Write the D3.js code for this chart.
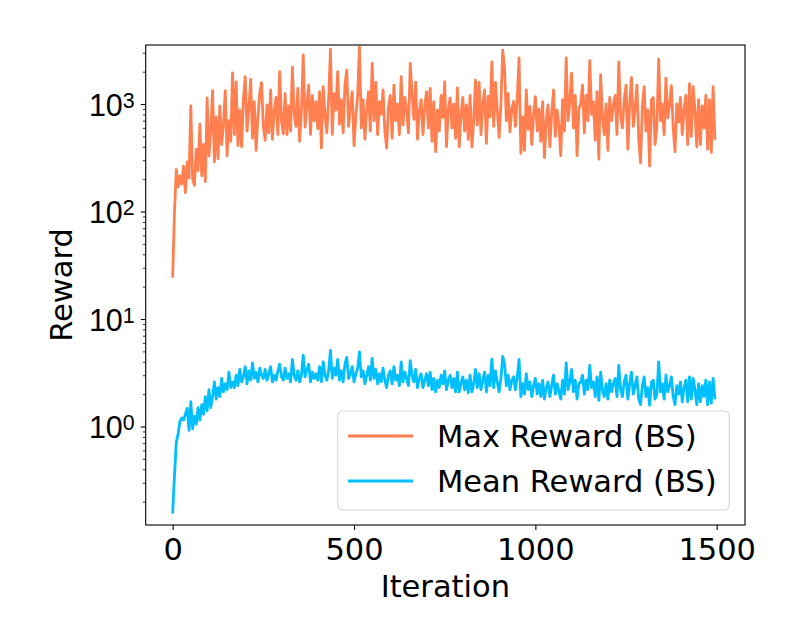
<!DOCTYPE html>
<html>
<head>
<meta charset="utf-8">
<script src="https://cdn.jsdelivr.net/npm/d3@7"></script>
<style>
  html, body { margin: 0; padding: 0; background: #fff; }
  svg { display: block; font-family: "DejaVu Sans", sans-serif; }
</style>
</head>
<body>
<svg id="chart" width="789" height="631"></svg>
<script>
// ---- Data (one value every 5 iterations) ----
const iterStep = 5;
const maxReward = [
  25, 100, 245, 170, 215, 180, 265, 150, 290, 205,
  960, 200, 175, 380, 240, 650, 215, 420, 190, 1140,
  330, 560, 1330, 290, 760, 310, 960, 420, 640, 1330,
  330, 700, 450, 1950, 520, 1610, 410, 880, 400, 1100,
  1800, 560, 900, 1700, 480, 1050, 370, 760, 1250, 1580,
  620, 460, 980, 540, 1350, 470, 860, 1150, 520, 2000,
  690, 530, 1250, 520, 960, 560, 2200, 800, 620, 1400,
  450, 870, 2860, 610, 980, 1500, 520, 1200, 700, 1050,
  590, 1300, 390, 1450, 800, 540, 1100, 3240, 520, 1250,
  880, 2000, 650, 1100, 540, 1500, 2070, 620, 950, 1300,
  410, 780, 1200, 3400, 600, 1100, 470, 900, 1300, 560,
  2390, 700, 1600, 520, 1050, 800, 1350, 560, 390, 950,
  1200, 480, 1500, 700, 1000, 520, 1800, 640, 1150, 880,
  540, 2390, 1250, 720, 1600, 470, 850, 1100, 520, 980,
  1300, 600, 1400, 450, 1050, 360, 880, 560, 1200, 750,
  1610, 400, 900, 1140, 600, 1000, 480, 1410, 400, 800,
  1150, 560, 980, 470, 1200, 400, 700, 1670, 640, 1590,
  520, 1000, 1350, 430, 1180, 760, 2460, 620, 1590, 880,
  490, 1000, 3170, 2160, 700, 1250, 550, 900, 1060, 620,
  1100, 2680, 348, 760, 370, 1350, 580, 950, 420, 800,
  1170, 560, 900, 450, 1050, 317, 700, 980, 400, 820,
  1350, 500, 880, 620, 330, 1100, 560, 2680, 700, 1060,
  1940, 600, 1200, 330, 900, 1000, 1500, 540, 1200, 700,
  2530, 800, 1050, 460, 1300, 306, 1880, 750, 520, 1000,
  370, 1150, 700, 980, 1200, 520, 2460, 780, 600, 1100,
  1500, 380, 1000, 1770, 620, 900, 1500, 470, 284, 950,
  1450, 560, 880, 265, 1100, 1150, 420, 620, 2620, 700,
  1000, 520, 1740, 740, 980, 1480, 600, 360, 1000, 680,
  1150, 520, 900, 1200, 420, 1550, 500, 1450, 880, 400,
  1100, 420, 960, 600, 1200, 380, 1100, 355, 1450, 480
];
const meanReward = [
  0.16, 0.35, 0.72, 0.85, 1.12, 1.2, 1.15, 1.3, 1.48, 0.92,
  1.7, 0.95, 1.25, 1.05, 1.5, 1.15, 1.6, 1.3, 1.9, 1.4,
  2.2, 1.5, 1.9, 2.6, 1.8, 2.3, 1.9, 2.8, 2.1, 2.5,
  2.2, 3.2, 2.3, 2.6, 2.3, 3.0, 2.4, 3.4, 2.6, 2.9,
  3.6, 2.5, 3.3, 2.7, 3.9, 2.8, 3.2, 2.6, 3.5, 3.0,
  2.8, 3.4, 2.7, 3.1, 3.6, 2.6, 3.0, 2.7, 3.3, 3.8,
  2.9, 2.7, 3.5, 2.8, 3.1, 2.6, 4.2, 3.0, 2.7, 3.3,
  2.6, 3.0, 4.6, 2.9, 3.4, 3.8, 2.6, 3.2, 2.8, 3.1,
  2.7, 3.6, 2.6, 4.0, 3.0, 2.7, 3.3, 5.1, 2.8, 3.5,
  3.0, 4.2, 2.7, 3.3, 2.6, 3.8, 4.4, 2.8, 3.1, 3.6,
  2.6, 3.1, 3.5, 4.95, 2.9, 3.3, 2.5, 3.0, 3.6, 2.7,
  4.3, 2.8, 3.4, 2.5, 3.1, 2.6, 3.5, 2.7, 2.3, 3.0,
  3.3, 2.5, 3.6, 2.7, 3.0, 2.4, 4.0, 2.6, 3.2, 2.8,
  2.4, 4.1, 3.0, 2.6, 3.4, 2.3, 2.8, 3.1, 2.3, 2.7,
  3.1, 2.4, 3.2, 2.2, 2.8, 2.1, 2.7, 2.3, 3.0, 2.5,
  3.3, 2.2, 2.7, 3.0, 2.3, 2.8, 2.1, 3.2, 2.1, 2.5,
  2.9, 2.2, 2.7, 2.06, 3.0, 2.1, 2.5, 3.4, 2.3, 3.1,
  2.2, 2.7, 3.2, 2.1, 3.0, 2.4, 4.24, 2.3, 3.3, 2.6,
  2.1, 2.8, 4.5, 3.8, 2.4, 3.0, 2.2, 2.7, 2.9, 2.2,
  2.9, 4.2, 1.9, 2.5, 2.0, 3.1, 2.2, 2.6, 1.9, 2.4,
  2.8, 2.0, 2.5, 1.9, 2.7, 1.8, 2.3, 2.6, 1.9, 2.4,
  3.0, 2.0, 2.5, 2.1, 1.8, 2.7, 2.0, 3.9, 2.2, 2.6,
  3.4, 2.1, 2.7, 1.8, 2.5, 2.6, 3.0, 2.0, 2.7, 2.2,
  3.7, 2.3, 2.6, 1.9, 2.9, 1.75, 3.2, 2.2, 1.9, 2.5,
  1.8, 2.7, 2.1, 2.5, 2.8, 1.9, 3.7, 2.2, 1.9, 2.6,
  3.0, 1.8, 2.5, 3.2, 2.0, 2.4, 2.9, 1.8, 1.6, 2.4,
  2.9, 1.9, 2.3, 1.58, 2.6, 2.7, 1.8, 2.0, 4.0, 2.1,
  2.5, 1.8, 3.0, 2.1, 2.4, 2.9, 1.9, 1.6, 2.4, 2.0,
  2.6, 1.7, 2.3, 2.7, 1.7, 2.9, 1.8, 2.8, 2.2, 1.6,
  2.5, 1.7, 2.4, 1.9, 2.7, 1.6, 2.6, 1.65, 2.8, 1.84
];
const xTicks = [0, 500, 1000, 1500];
const yTicks = [1, 10, 100, 1000];
const yTickExp = ["0", "1", "2", "3"];
const seriesNames = ["Max Reward (BS)", "Mean Reward (BS)"];
const seriesColors = ["#ff7f50", "#00bfff"];

// ---- Layout ----
const svg = d3.select("#chart");
const plot = { left: 145.7, right: 745, top: 45, bottom: 525 };
const FS = 30.5;

const x = d3.scaleLinear().domain([-74.4, 1578]).range([plot.left, plot.right]);
const y = d3.scaleLog().domain([Math.pow(10, -0.916), Math.pow(10, 3.549)]).range([plot.bottom, plot.top]);

svg.append("defs").append("clipPath").attr("id", "clip")
  .append("rect").attr("x", plot.left).attr("y", plot.top)
  .attr("width", plot.right - plot.left).attr("height", plot.bottom - plot.top);

const line = d3.line().x((d, i) => x(i * iterStep)).y(d => y(d));

const series = [maxReward, meanReward];
const g = svg.append("g").attr("clip-path", "url(#clip)");
series.forEach((s, k) => {
  g.append("path").datum(s).attr("d", line)
    .attr("fill", "none").attr("stroke", seriesColors[k])
    .attr("stroke-width", 2.8).attr("stroke-linejoin", "round").attr("stroke-linecap", "square");
});

// ---- Axes ----
const xAxis = d3.axisBottom(x).tickValues(xTicks).tickSize(4.9).tickPadding(4).tickFormat(d3.format("d"));
const gx = svg.append("g").attr("transform", `translate(0,${plot.bottom})`).call(xAxis);
gx.select(".domain").remove();
gx.selectAll(".tick line").attr("stroke", "#000").attr("stroke-width", 1.1);
gx.selectAll(".tick text").attr("font-size", FS).attr("font-family", "DejaVu Sans").attr("fill", "#000")
  .attr("dy", null).attr("y", 35);

// minor log ticks
const minor = [];
for (let e = -1; e <= 3; e++) for (let m = 2; m <= 9; m++) {
  const v = m * Math.pow(10, e);
  if (v >= y.domain()[0] && v <= y.domain()[1]) minor.push(v);
}
const yAxisMinor = d3.axisLeft(y).tickValues(minor).tickSize(2.8).tickFormat("");
const gym = svg.append("g").attr("transform", `translate(${plot.left},0)`).call(yAxisMinor);
gym.select(".domain").remove();
gym.selectAll(".tick line").attr("stroke", "#000").attr("stroke-width", 0.8);

const yAxis = d3.axisLeft(y).tickValues(yTicks).tickSize(4.9).tickFormat("");
const gy = svg.append("g").attr("transform", `translate(${plot.left},0)`).call(yAxis);
gy.select(".domain").remove();
gy.selectAll(".tick line").attr("stroke", "#000").attr("stroke-width", 1.1);
gy.selectAll(".tick").each(function(d, i) {
  const t = d3.select(this).append("text")
    .attr("x", -11).attr("y", 11).attr("text-anchor", "end")
    .attr("font-size", FS).attr("fill", "#000");
  t.append("tspan").text("10");
  t.append("tspan").attr("font-size", FS * 0.7).attr("dy", -8).text(yTickExp[i]);
});

// spines
svg.append("rect").attr("x", plot.left).attr("y", plot.top)
  .attr("width", plot.right - plot.left).attr("height", plot.bottom - plot.top)
  .attr("fill", "none").attr("stroke", "#000").attr("stroke-width", 1.1);

// axis labels
svg.append("text").attr("x", (plot.left + plot.right) / 2).attr("y", 597)
  .attr("text-anchor", "middle").attr("font-size", FS).text("Iteration");
svg.append("text").attr("transform", `translate(72,${(plot.top + plot.bottom) / 2}) rotate(-90)`)
  .attr("text-anchor", "middle").attr("font-size", FS).text("Reward");

// ---- Legend ----
const lg = svg.append("g");
lg.append("rect").attr("x", 337.7).attr("y", 411).attr("width", 391.6).attr("height", 99)
  .attr("rx", 5).attr("fill", "#fff").attr("fill-opacity", 0.8)
  .attr("stroke", "#d6d6d6").attr("stroke-width", 1.1);
seriesNames.forEach((name, k) => {
  const yy = 436 + k * 45;
  lg.append("line").attr("x1", 348).attr("x2", 413).attr("y1", yy).attr("y2", yy)
    .attr("stroke", seriesColors[k]).attr("stroke-width", 2.8);
  lg.append("text").attr("x", 437).attr("y", yy + 10.5).attr("font-size", FS).text(name);
});
</script>
</body>
</html>
